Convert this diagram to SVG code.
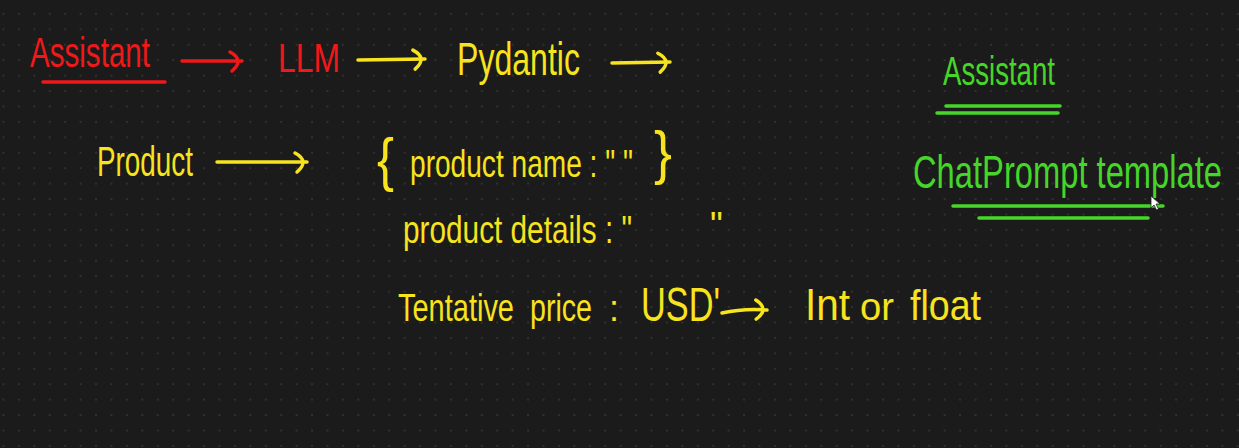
<svg xmlns="http://www.w3.org/2000/svg" width="1239" height="448" viewBox="0 0 1239 448">
<style>
text{font-family:"Liberation Sans","DejaVu Sans",sans-serif;}
.r{fill:#f01818;}
.y{fill:#f7e31e;}
.g{fill:#46d62a;}
.ln{fill:none;stroke-width:3.5;stroke-linecap:round;stroke-linejoin:round;}
.rs{stroke:#f01818;}
.ys{stroke:#f7e31e;}
.gs{stroke:#46d62a;}
</style>
<defs>
<pattern id="grid" patternUnits="userSpaceOnUse" x="2.45" y="12.9" width="15.43" height="15.43">
<circle cx="1" cy="1" r="1" fill="#363636"/>
</pattern>
<marker id="hr" markerUnits="userSpaceOnUse" viewBox="-14 -12 18 24" refX="0" refY="0" markerWidth="18" markerHeight="24" orient="auto" overflow="visible">
<path d="M-12,-9 Q3,-1 -10,10" fill="none" stroke="#f01818" stroke-width="3.5" stroke-linecap="round"/>
</marker>
<marker id="hy" markerUnits="userSpaceOnUse" viewBox="-14 -12 18 24" refX="0" refY="0" markerWidth="18" markerHeight="24" orient="auto" overflow="visible">
<path d="M-12,-9 Q3,-1 -10,10" fill="none" stroke="#f7e31e" stroke-width="3.5" stroke-linecap="round"/>
</marker>
</defs>
<rect width="1239" height="448" fill="#1b1b1b"/>
<rect width="1239" height="448" fill="url(#grid)"/>

<g id="assistant-red">
<text class="r" transform="translate(30,67) scale(1,1.45)" font-size="29.5" textLength="120" lengthAdjust="spacingAndGlyphs">Assistant</text>
<path class="ln rs" d="M43,82 L165,82"/>
</g>
<g id="llm">
<text class="r" transform="translate(278,72) scale(1,1.27)" font-size="31.9" textLength="62" lengthAdjust="spacingAndGlyphs">LLM</text>
</g>
<g id="pydantic">
<text class="y" transform="translate(457,75) scale(1,1.45)" font-size="32" textLength="123" lengthAdjust="spacingAndGlyphs">Pydantic</text>
</g>
<g id="product">
<text class="y" transform="translate(97,176) scale(1,1.55)" font-size="27.9" textLength="96" lengthAdjust="spacingAndGlyphs">Product</text>
</g>
<g id="schema">
<text class="y" x="377" y="180" font-size="60" textLength="17" lengthAdjust="spacingAndGlyphs">{</text>
<text class="y" transform="translate(410,177) scale(1,1.35)" font-size="28.1" textLength="223" lengthAdjust="spacingAndGlyphs">product name : " "</text>
<text class="y" x="654" y="173" font-size="60" textLength="18" lengthAdjust="spacingAndGlyphs">}</text>
<text class="y" transform="translate(403,243) scale(1,1.3)" font-size="29.8" textLength="229" lengthAdjust="spacingAndGlyphs">product details : "</text>
<text class="y" x="710" y="238" font-size="36">"</text>
<text class="y" transform="translate(398,321) scale(1,1.4)" font-size="28.2" textLength="116" lengthAdjust="spacingAndGlyphs">Tentative</text>
<text class="y" transform="translate(530,321) scale(1,1.35)" font-size="28.6" textLength="62" lengthAdjust="spacingAndGlyphs">price</text>
<text class="y" x="609" y="321" font-size="36">:</text>
<text class="y" transform="translate(641,321) scale(1,1.38)" font-size="34.3" textLength="79" lengthAdjust="spacingAndGlyphs">USD'</text>
</g>
<g id="int-or-float">
<text class="y" transform="translate(805,320) scale(1,1.1)" font-size="40.5" textLength="45" lengthAdjust="spacingAndGlyphs">Int</text>
<text class="y" x="860" y="320" font-size="38" textLength="34" lengthAdjust="spacingAndGlyphs">or</text>
<text class="y" transform="translate(910,320) scale(1,1.15)" font-size="37.6" textLength="71" lengthAdjust="spacingAndGlyphs">float</text>
</g>
<g id="assistant-green">
<text class="g" transform="translate(943,85) scale(1,1.45)" font-size="27.6" textLength="112" lengthAdjust="spacingAndGlyphs">Assistant</text>
<path class="ln gs" d="M946,106 L1060,106 M937,113 L1058,113"/>
</g>
<g id="chatprompt-template">
<text class="g" transform="translate(913,188) scale(1,1.4)" font-size="32.7" textLength="309" lengthAdjust="spacingAndGlyphs">ChatPrompt template</text>
<path class="ln gs" d="M953,206 L1163,206 M979,218 L1148,218"/>
</g>
<g id="cursor">
<path d="M1151,196 L1151,208 L1154,205 L1156.5,210 L1158.5,209 L1156,204 L1160,204 Z" fill="#ffffff" stroke="#222" stroke-width="0.8"/>
</g>

<g id="connectors">
<path class="ln rs" d="M182,61 L242,61" marker-end="url(#hr)"/>
<path class="ln ys" d="M358,60 L425,59" marker-end="url(#hy)"/>
<path class="ln ys" d="M612,63 L670,62" marker-end="url(#hy)"/>
<path class="ln ys" d="M217,162 L307,162" marker-end="url(#hy)"/>
<path class="ln ys" d="M722,313 Q744,308 767,310" marker-end="url(#hy)"/>
</g>
</svg>
